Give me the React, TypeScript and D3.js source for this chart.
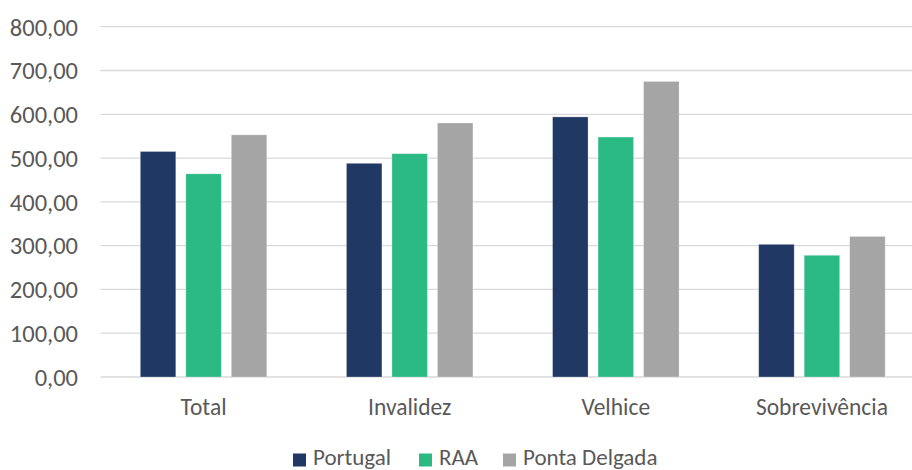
import React from "react";
import * as d3 from "d3";

const categories = ["Total", "Invalidez", "Velhice", "Sobrevivência"];
const seriesNames = ["Portugal", "RAA", "Ponta Delgada"];
const portugal = [515, 488, 594, 303];
const raa = [464, 510, 548, 278];
const pontaDelgada = [553, 580, 675, 321];
const yTicks = [0, 100, 200, 300, 400, 500, 600, 700, 800];
const colors = ["#203864", "#2BB984", "#A5A5A5"];

const W = 912;
const H = 470;
const FONT = "Carlito, Calibri, Lato, 'Open Sans', sans-serif";

export default function App() {
  const values = [portugal, raa, pontaDelgada];
  const left = 100.5;
  const right = 925;
  const top = 26.7;
  const bottom = 377;

  const x0 = d3.scaleBand<string>().domain(categories).range([left, right]).paddingInner(0).paddingOuter(0);
  const groupW = 126.5;
  const x1 = d3
    .scaleBand<string>()
    .domain(seriesNames)
    .range([0, groupW])
    .paddingInner(0.22)
    .paddingOuter(0);
  const y = d3.scaleLinear().domain([0, 800]).range([bottom, top]);

  const fmt = (v: number) => d3.format(".2f")(v).replace(".", ",");

  const legendX = [293, 419, 503];

  return (
    <svg
      width={W}
      height={H}
      style={{ position: "absolute", left: 0, top: 0, background: "#fff" }}
      fontFamily={FONT}
    >
      {yTicks.map((t) => (
        <g key={t}>
          <line x1={left} x2={right} y1={y(t)} y2={y(t)} stroke="#D9D9D9" strokeWidth={1.3} />
          <text x={78} y={y(t)} dy="0.36em" textAnchor="end" fontSize={24.5} fill="#595959">
            {fmt(t)}
          </text>
        </g>
      ))}
      {categories.map((c, ci) => {
        const gx = (x0(c) as number) + (x0.bandwidth() - groupW) / 2;
        return (
          <g key={c}>
            {seriesNames.map((s, si) => (
              <rect
                key={s}
                x={gx + (x1(s) as number)}
                y={y(values[si][ci])}
                width={x1.bandwidth()}
                height={y(0) - y(values[si][ci])}
                fill={colors[si]}
                stroke="#ffffff"
                strokeOpacity={0.35}
                strokeWidth={0.8}
              />
            ))}
            <text
              x={(x0(c) as number) + x0.bandwidth() / 2}
              y={415}
              textAnchor="middle"
              fontSize={23.5}
              fill="#595959"
            >
              {c}
            </text>
          </g>
        );
      })}
      {seriesNames.map((s, si) => (
        <g key={s}>
          <rect x={legendX[si]} y={453.5} width={13} height={13} fill={colors[si]} />
          <text x={legendX[si] + 20} y={464.5} fontSize={23} fill="#595959">
            {s}
          </text>
        </g>
      ))}
    </svg>
  );
}
